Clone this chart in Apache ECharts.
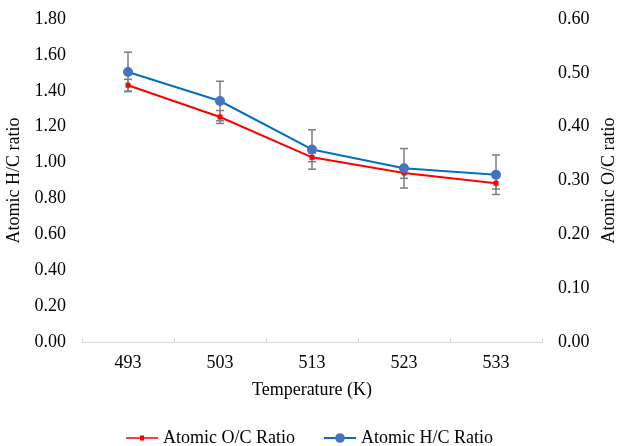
<!DOCTYPE html>
<html><head><meta charset="utf-8">
<script src="https://cdn.jsdelivr.net/npm/echarts@6/dist/echarts.min.js"></script>
<style>html,body{margin:0;padding:0;background:#fff}#c{width:619px;height:446px}</style>
</head><body><div id="c"></div>
<script>
const categories = ['493', '503', '513', '523', '533'];
const hcValues = [1.505, 1.343, 1.073, 0.968, 0.932];
const hcErrors = [0.11, 0.11, 0.11, 0.11, 0.11];
const ocValues = [0.477, 0.418, 0.343, 0.314, 0.295];
const ocErrors = [0.011, 0.012, 0.008, 0.010, 0.011];
const leftTicks = {min: 0, max: 1.8, interval: 0.2};
const rightTicks = {min: 0, max: 0.6, interval: 0.1};

const FONT = 'Liberation Serif';
const chart = echarts.init(document.getElementById('c'));

function errSeries(name, vals, errs, yIdx) {
  return {
    type: 'custom', name: name + ' err', yAxisIndex: yIdx, z: 1,
    data: vals.map((v, i) => [i, v - errs[i], v + errs[i]]),
    renderItem: function (params, api) {
      const lo = api.coord([api.value(0), api.value(1)]);
      const hi = api.coord([api.value(0), api.value(2)]);
      const w = 4;
      const st = {stroke: '#7f7f7f', lineWidth: 1.5};
      return {type: 'group', children: [
        {type: 'line', shape: {x1: lo[0], y1: lo[1], x2: hi[0], y2: hi[1]}, style: st},
        {type: 'line', shape: {x1: lo[0] - w, y1: lo[1], x2: lo[0] + w, y2: lo[1]}, style: st},
        {type: 'line', shape: {x1: hi[0] - w, y1: hi[1], x2: hi[0] + w, y2: hi[1]}, style: st}
      ]};
    },
    silent: true
  };
}

const yCommon = {
  type: 'value', splitLine: {show: false}, axisLine: {show: false}, axisTick: {show: false},
  nameLocation: 'middle', nameGap: 53,
  nameTextStyle: {fontFamily: FONT, fontSize: 18, color: '#000'},
  axisLabel: {fontFamily: FONT, fontSize: 18, color: '#000', margin: 16, formatter: v => v.toFixed(2)}
};

chart.setOption({
  animation: false,
  grid: {left: 82, right: 77, top: 19, bottom: 104, containLabel: false, outerBoundsMode: 'none'},
  legend: {
    top: 424, left: 'center', itemGap: 28, itemWidth: 32, itemHeight: 12,
    textStyle: {fontFamily: FONT, fontSize: 18, color: '#000'},
    data: [
      {name: 'Atomic O/C Ratio', icon: 'path://M0,5.25 L32,5.25 L32,6.75 L0,6.75 Z M14,3.5 L18,3.5 L18,8.5 L14,8.5 Z'},
      {name: 'Atomic H/C Ratio'}
    ]
  },
  xAxis: {
    type: 'category', data: categories, boundaryGap: true,
    name: 'Temperature (K)', nameLocation: 'middle', nameGap: 39,
    nameTextStyle: {fontFamily: FONT, fontSize: 18, color: '#000'},
    axisLine: {lineStyle: {color: '#d9d9d9', width: 1}},
    axisTick: {show: true, inside: true, length: 4, lineStyle: {color: '#d9d9d9'}},
    axisLabel: {fontFamily: FONT, fontSize: 18, color: '#000', margin: 12}
  },
  yAxis: [
    Object.assign({}, yCommon, {name: 'Atomic H/C ratio', position: 'left', min: leftTicks.min, max: leftTicks.max, interval: leftTicks.interval}),
    Object.assign({}, yCommon, {name: 'Atomic O/C ratio', position: 'right', nameGap: 56, min: rightTicks.min, max: rightTicks.max, interval: rightTicks.interval})
  ],
  series: [
    errSeries('oc', ocValues, ocErrors, 1),
    errSeries('hc', hcValues, hcErrors, 0),
    {
      name: 'Atomic O/C Ratio', type: 'line', yAxisIndex: 1, data: ocValues, z: 3,
      symbol: 'rect', symbolSize: 5, showSymbol: true,
      lineStyle: {color: '#ff0000', width: 2}, itemStyle: {color: '#ff0000'}
    },
    {
      name: 'Atomic H/C Ratio', type: 'line', yAxisIndex: 0, data: hcValues, z: 4,
      symbol: 'circle', symbolSize: 10, showSymbol: true,
      lineStyle: {color: '#0070c0', width: 2}, itemStyle: {color: '#4472c4'}
    }
  ]
});
</script></body></html>
